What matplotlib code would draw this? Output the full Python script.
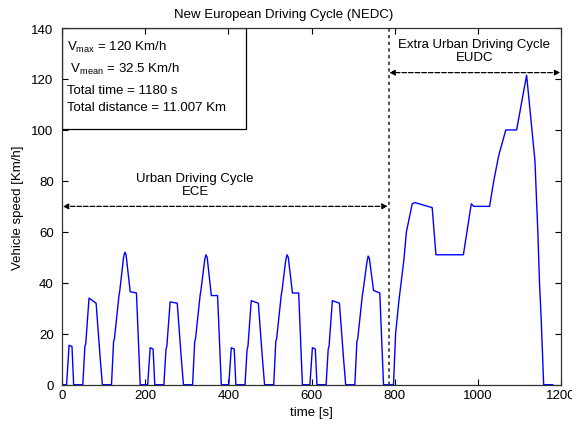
import matplotlib
matplotlib.use("Agg")
import numpy as np
import matplotlib.pyplot as plt
from matplotlib.patches import Rectangle

plt.rcParams["font.family"] = ["Liberation Sans", "DejaVu Sans"]
plt.rcParams["font.size"] = 9.5

# ECE urban cycle breakpoints, seconds from the start of each repetition
ECE_T = [0, 11, 17, 24, 28, 50, 55, 57, 65, 82, 92, 97,
         119, 124, 126, 137, 139, 148, 151, 154, 164, 179, 188, 195]
ECE_LEN = 195

# speed at each breakpoint for the four repetitions [km/h]
ECE_V1 = [0, 0, 15.5, 15, 0, 0, 15, 16, 34, 32, 10, 0,
          0, 17, 18, 35, 37, 50, 52, 51, 36.5, 36, 0, 0]
ECE_V2 = [0, 0, 14.5, 14, 0, 0, 14, 15, 32.5, 32, 10, 0,
          0, 17, 18, 35, 37, 49, 51, 50, 35, 35, 0, 0]
ECE_V3 = [0, 0, 14.5, 14, 0, 0, 14, 15, 33, 32, 10, 0,
          0, 17, 18, 35, 37, 49, 51, 50, 36, 36, 0, 0]
ECE_V4 = [0, 0, 14.5, 14, 0, 0, 14, 15, 33, 32, 10, 0,
          0, 17, 18, 35, 37, 48, 50.5, 49.5, 37, 36, 0, 0]

# extra urban part, absolute time [s] and speed [km/h]
EUDC_T = [780, 797, 802, 810, 822, 828, 842, 848, 890, 899, 965, 984,
          990, 1028, 1038, 1050, 1067, 1093, 1117, 1137, 1144, 1148, 1152, 1158, 1180]
EUDC_V = [0, 0, 20, 33, 49, 60, 71, 71.5, 69.5, 51, 51, 71,
          70, 70, 80, 90, 100, 100, 121.5, 88, 60, 40, 26, 0, 0]

EUDC_START = 785

INFO_LINES = [
    r"$\mathregular{V_{max}}$ = 120 Km/h",
    r" $\mathregular{V_{mean}}$ = 32.5 Km/h",
    "Total time = 1180 s",
    "Total distance = 11.007 Km",
]


def main():
    t = []
    v = []
    for k, cyc in enumerate([ECE_V1, ECE_V2, ECE_V3, ECE_V4]):
        t += [k * ECE_LEN + x for x in ECE_T]
        v += cyc
    t += EUDC_T
    v += EUDC_V

    fig = plt.figure(figsize=(5.72, 4.27), dpi=100)
    ax = fig.add_axes([0.1084, 0.0967, 0.8726, 0.8353])

    ax.plot(t, v, color="#0000ff", lw=1.0)

    ax.set_xlim(0, 1200)
    ax.set_ylim(0, 140)
    ax.set_xticks(np.arange(0, 1201, 200))
    ax.set_yticks(np.arange(0, 141, 20))
    ax.tick_params(direction="in", top=True, right=True, length=4,
                   labelsize=9.5)
    ax.tick_params(axis="x", pad=3)
    ax.tick_params(axis="y", pad=6)
    for s in ax.spines.values():
        s.set_linewidth(0.9)
        s.set_color("#333333")

    # title sits over the middle of the figure, not the axes
    fig.text(0.495, 0.966, "New European Driving Cycle (NEDC)",
             ha="center", va="center", fontsize=9.5)
    ax.set_xlabel("time [s]", fontsize=9.5, labelpad=4)
    ax.set_ylabel("Vehicle speed [Km/h]", fontsize=9.5, labelpad=5)

    # dotted divider between urban and extra-urban part
    ax.axvline(EUDC_START, color="#333333", ls=(0, (2, 2)), lw=1.2)

    arrow = dict(arrowstyle="<|-|>", color="black", lw=0.9, ls="--",
                 mutation_scale=8, shrinkA=0, shrinkB=0)
    ax.annotate("", xy=(2, 70), xytext=(EUDC_START - 2, 70), arrowprops=arrow)
    ax.annotate("", xy=(EUDC_START + 2, 122.5), xytext=(1198, 122.5),
                arrowprops=arrow)

    ax.text(320, 78.5, "Urban Driving Cycle\nECE", ha="center", va="center",
            linespacing=1.1)
    ax.text(991, 131.2, "Extra Urban Driving Cycle\nEUDC", ha="center",
            va="center", linespacing=1.1)

    # info box in the upper left corner, kept under the spines and ticks
    ax.add_patch(Rectangle((0, 100.3), 442, 39.7, facecolor="white",
                           edgecolor="black", lw=0.9, zorder=1))
    ys = [132.8, 124.3, 115.6, 109.0]
    for y, line in zip(ys, INFO_LINES):
        ax.text(11, y, line, va="center", ha="left", zorder=4)

    fig.savefig("out.png", dpi=100)


if __name__ == "__main__":
    main()
